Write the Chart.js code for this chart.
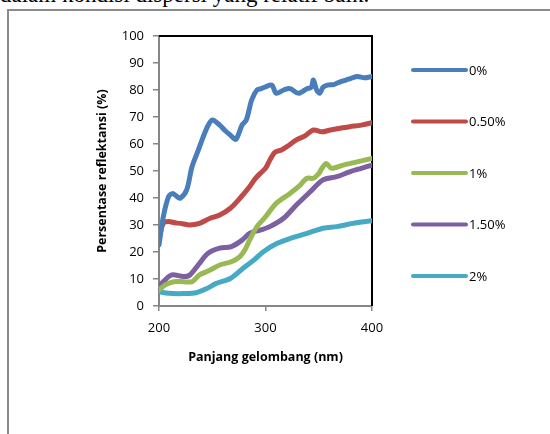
<!DOCTYPE html>
<html>
<head>
<meta charset="utf-8">
<script src="https://cdn.jsdelivr.net/npm/chart.js@4/dist/chart.umd.min.js"></script>
<style>
  html, body { margin: 0; padding: 0; background: #fff; overflow: hidden; }
  body { width: 550px; height: 434px; position: relative; }
  #caption { position: absolute; left: 0px; top: -18px; font-family: "Liberation Serif", "Times New Roman", serif; font-size: 23px; color: #000; white-space: nowrap; }
  #frame { position: absolute; left: 7px; top: 9px; width: 600px; height: 500px; border-left: 2px solid #8a8a8a; border-top: 2px solid #8a8a8a; }
  #wrap { position: absolute; left: 0; top: 0; width: 550px; height: 434px; }
</style>
</head>
<body>
<div id="caption">dalam kondisi dispersi yang relatif baik.</div>
<div id="frame"></div>
<div id="wrap"><canvas id="c" width="550" height="434"></canvas></div>
<script>
// ---- data ----
const seriesNames = ["0%", "0.50%", "1%", "1.50%", "2%"];
const xTicks = [200, 300, 400];
const yTicks = [0, 10, 20, 30, 40, 50, 60, 70, 80, 90, 100];

const wl_0 = [200, 204, 209, 213, 217, 220, 226, 231, 237, 239, 245, 250, 257, 262, 267, 272, 275, 278, 282, 287, 292, 296, 300, 306, 310, 317, 323, 331, 339, 343, 345, 348, 351, 354, 358, 364, 370, 378, 386, 393, 400];
const val_0 = [22.6, 33, 40.5, 41.7, 40.5, 39.9, 43, 51.6, 57.8, 60, 66, 68.9, 67, 65, 63.3, 61.7, 64, 67, 68.9, 76.3, 80, 80.5, 81.2, 81.8, 78.8, 80, 80.5, 78.8, 80.5, 81, 83.7, 80, 78.8, 81, 81.8, 82, 83, 84, 85, 84.5, 85];

const wl_05 = [200, 204, 209, 215, 220, 229, 238, 248, 257, 267, 276, 285, 290, 295, 300, 304, 309, 315, 320, 329, 337, 345, 353, 361, 370, 379, 390, 400];
const val_05 = [25, 30.6, 31.3, 30.8, 30.6, 30, 30.6, 32.5, 33.7, 36.2, 39.9, 44.2, 47, 49.1, 51, 54, 57, 57.8, 59, 61.5, 63, 65.2, 64.5, 65.2, 65.8, 66.4, 67, 67.9];

const wl_1 = [200, 206, 214, 223, 231, 238, 248, 257, 268, 276, 281, 285, 292, 300, 310, 323, 331, 339, 345, 350, 353, 357, 362, 373, 386, 400];
const val_1 = [5.9, 7.8, 9, 9, 9, 11.5, 13.3, 15.2, 16.4, 18.3, 21, 24.4, 29.4, 33, 38, 41.7, 44.2, 47.3, 47.3, 49, 51, 52.8, 51, 52.2, 53.4, 54.7];

const wl_15 = [200, 204, 212, 223, 229, 238, 246, 257, 268, 278, 285, 295, 304, 317, 329, 342, 354, 367, 379, 390, 400];
const val_15 = [7.2, 9, 11.5, 10.9, 11.5, 15.8, 19.5, 21.4, 22, 24.4, 26.9, 28.1, 29.4, 32.5, 37.4, 42.3, 46.7, 47.9, 49.7, 51, 52.2];

const wl_2 = [200, 209, 223, 235, 245, 254, 267, 279, 289, 298, 311, 323, 339, 354, 367, 382, 400];
const val_2 = [5.3, 4.7, 4.6, 4.9, 6.5, 8.4, 10.2, 14, 17, 20.1, 23.2, 25, 26.9, 28.8, 29.4, 30.6, 31.6];

const colors = ["#4a7ebb", "#be4b48", "#98b954", "#7d60a0", "#46aac5"];
// ---------------

const allWl = [wl_0, wl_05, wl_1, wl_15, wl_2];
const allVal = [val_0, val_05, val_1, val_15, val_2];

const FONT = "'Open Sans', 'Liberation Sans', sans-serif";

const datasets = seriesNames.map((name, i) => ({
  label: name,
  data: allWl[i].map((x, j) => ({ x: x, y: allVal[i][j] })),
  borderColor: colors[i],
  backgroundColor: colors[i],
  borderWidth: 5,
  pointRadius: 0,
  tension: 0.3,
  borderCapStyle: 'round',
  borderJoinStyle: 'round',
  fill: false
}));

const framePlugin = {
  id: 'plotFrame',
  beforeDatasetsDraw(chart) {
    const { ctx, chartArea: a } = chart;
    ctx.save();
    ctx.strokeStyle = '#000';
    ctx.lineWidth = 2;
    ctx.beginPath();
    ctx.moveTo(a.left, a.top);
    ctx.lineTo(a.right, a.top);
    ctx.lineTo(a.right, a.bottom);
    ctx.stroke();
    ctx.restore();
  }
};

const legendPlugin = {
  id: 'sideLegend',
  afterDraw(chart) {
    const { ctx } = chart;
    ctx.save();
    chart.data.datasets.forEach((ds, i) => {
      const y = 70 + 51.5 * i;
      ctx.strokeStyle = ds.borderColor;
      ctx.lineWidth = 4;
      ctx.lineCap = 'round';
      ctx.beginPath();
      ctx.moveTo(413, y);
      ctx.lineTo(466, y);
      ctx.stroke();
      ctx.fillStyle = '#000';
      ctx.font = "13px " + FONT;
      ctx.textBaseline = 'middle';
      ctx.textAlign = 'left';
      ctx.fillText(ds.label, 469, y + 1);
    });
    ctx.restore();
  }
};

new Chart(document.getElementById('c'), {
  type: 'line',
  data: { datasets },
  plugins: [framePlugin, legendPlugin],
  options: {
    responsive: false,
    animation: false,
    events: [],
    layout: { padding: { left: 88, top: 36, right: 178, bottom: 69 } },
    plugins: { legend: { display: false }, tooltip: { enabled: false } },
    scales: {
      x: {
        type: 'linear',
        min: 200, max: 400,
        afterBuildTicks(scale) { scale.ticks = xTicks.map(v => ({ value: v })); },
        afterFit(scale) { scale.height = 59; },
        ticks: { color: '#000', font: { family: FONT, size: 13 }, padding: 9, maxRotation: 0 },
        grid: { drawOnChartArea: false, drawTicks: true, tickLength: 5, color: '#868686', lineWidth: 1.5 },
        border: { display: true, color: '#868686', width: 2 },
        title: { display: true, text: 'Panjang gelombang (nm)', color: '#000', font: { family: FONT, size: 12.5, weight: 'bold' }, padding: { top: 0, bottom: 0 } }
      },
      y: {
        min: 0, max: 100,
        afterBuildTicks(scale) { scale.ticks = yTicks.map(v => ({ value: v })); },
        afterFit(scale) { scale.width = 71; },
        ticks: { color: '#000', font: { family: FONT, size: 13 }, padding: 9 },
        grid: { drawOnChartArea: false, drawTicks: true, tickLength: 6, color: '#868686', lineWidth: 1.5 },
        border: { display: true, color: '#868686', width: 2 },
        title: { display: true, text: 'Persentase reflektansi (%)', color: '#000', font: { family: FONT, size: 12.5, weight: 'bold' }, padding: { top: 7, bottom: 0 } }
      }
    }
  }
});
</script>
</body>
</html>
